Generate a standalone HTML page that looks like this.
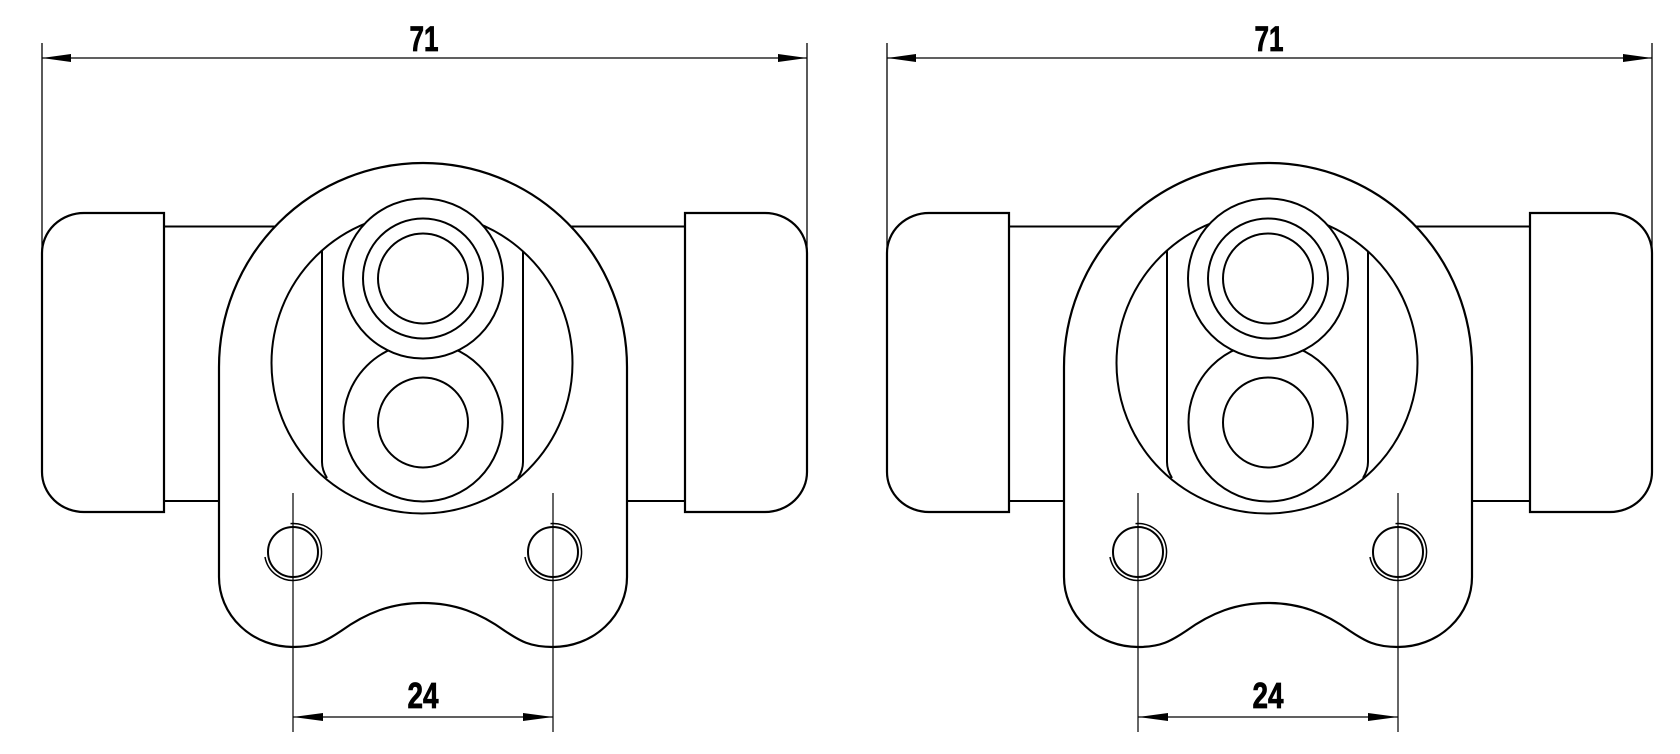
<!DOCTYPE html>
<html><head><meta charset="utf-8"><style>html,body{margin:0;padding:0;background:#fff}svg{display:block}</style></head>
<body>
<svg width="1680" height="754" viewBox="0 0 1680 754" xmlns="http://www.w3.org/2000/svg">
<g id="d1" fill="none" stroke="#000">
  <line x1="42" y1="43" x2="42" y2="250" stroke-width="1.3"/>
  <line x1="807" y1="43" x2="807" y2="250" stroke-width="1.3"/>
  <line x1="42" y1="58" x2="807" y2="58" stroke-width="1.3"/>
  <path d="M42,58 L71,54 L71,62 Z M807,58 L778,54 L778,62 Z" fill="#000" stroke="none"/>
  <text x="424" y="51" font-family="Liberation Sans Narrow, Liberation Sans, sans-serif" font-weight="bold" font-size="35" text-anchor="middle" fill="#000" stroke="#000" stroke-width="0.8" textLength="29" lengthAdjust="spacingAndGlyphs">71</text>
  <line x1="164" y1="226.5" x2="685" y2="226.5" stroke-width="2"/>
  <line x1="164" y1="501" x2="685" y2="501" stroke-width="2"/>
  <path d="M164,213 L84,213 A42,40 0 0 0 42,253 L42,472 A42,40 0 0 0 84,512 L164,512 Z" fill="#fff" stroke-width="2.2"/>
  <path d="M685,213 L765,213 A42,40 0 0 1 807,253 L807,472 A42,40 0 0 1 765,512 L685,512 Z" fill="#fff" stroke-width="2.2"/>
  <path d="M219,367 A204,204 0 0 1 627,367 L627,577 A74,70 0 0 1 553,647 C530,647 520,641 505,631 C480,613 455,603 423,603 C391,603 366,613 341,631 C326,641 316,647 293,647 A74,70 0 0 1 219,577 Z" fill="#fff" stroke-width="2.2"/>
  <circle cx="293" cy="552" r="25" stroke-width="2"/>
  <path d="M290.5,523.6 A28.5,28.5 0 1 1 265,557" stroke-width="1.5"/>
  <circle cx="553" cy="552" r="25" stroke-width="2"/>
  <path d="M550.5,523.6 A28.5,28.5 0 1 1 525,557" stroke-width="1.5"/>
  <line x1="293" y1="493" x2="293" y2="732" stroke-width="1.2"/>
  <line x1="553" y1="493" x2="553" y2="732" stroke-width="1.2"/>
  <line x1="293" y1="717" x2="553" y2="717" stroke-width="1.3"/>
  <path d="M293,717 L323,713 L323,721 Z M553,717 L523,713 L523,721 Z" fill="#000" stroke="none"/>
  <text x="423" y="708" font-family="Liberation Sans Narrow, Liberation Sans, sans-serif" font-weight="bold" font-size="36" text-anchor="middle" fill="#000" stroke="#000" stroke-width="0.8" textLength="31" lengthAdjust="spacingAndGlyphs">24</text>
  <circle cx="422" cy="363" r="150.5" stroke-width="2"/>
  <path d="M322,251 L322,462 Q322,470 327,478" stroke-width="2"/>
  <path d="M523,251 L523,462 Q523,470 518,478" stroke-width="2"/>
  <circle cx="423" cy="422" r="79.5" stroke-width="2"/>
  <circle cx="423" cy="422.5" r="45" stroke-width="2"/>
  <circle cx="423" cy="278.5" r="80" fill="#fff" stroke-width="2"/>
  <circle cx="423" cy="278.5" r="60" stroke-width="2"/>
  <circle cx="423" cy="278.5" r="45" stroke-width="2"/>
</g>
<g fill="none" stroke="#000" transform="translate(845,0)">
  <line x1="42" y1="43" x2="42" y2="250" stroke-width="1.3"/>
  <line x1="807" y1="43" x2="807" y2="250" stroke-width="1.3"/>
  <line x1="42" y1="58" x2="807" y2="58" stroke-width="1.3"/>
  <path d="M42,58 L71,54 L71,62 Z M807,58 L778,54 L778,62 Z" fill="#000" stroke="none"/>
  <text x="424" y="51" font-family="Liberation Sans Narrow, Liberation Sans, sans-serif" font-weight="bold" font-size="35" text-anchor="middle" fill="#000" stroke="#000" stroke-width="0.8" textLength="29" lengthAdjust="spacingAndGlyphs">71</text>
  <line x1="164" y1="226.5" x2="685" y2="226.5" stroke-width="2"/>
  <line x1="164" y1="501" x2="685" y2="501" stroke-width="2"/>
  <path d="M164,213 L84,213 A42,40 0 0 0 42,253 L42,472 A42,40 0 0 0 84,512 L164,512 Z" fill="#fff" stroke-width="2.2"/>
  <path d="M685,213 L765,213 A42,40 0 0 1 807,253 L807,472 A42,40 0 0 1 765,512 L685,512 Z" fill="#fff" stroke-width="2.2"/>
  <path d="M219,367 A204,204 0 0 1 627,367 L627,577 A74,70 0 0 1 553,647 C530,647 520,641 505,631 C480,613 455,603 423,603 C391,603 366,613 341,631 C326,641 316,647 293,647 A74,70 0 0 1 219,577 Z" fill="#fff" stroke-width="2.2"/>
  <circle cx="293" cy="552" r="25" stroke-width="2"/>
  <path d="M290.5,523.6 A28.5,28.5 0 1 1 265,557" stroke-width="1.5"/>
  <circle cx="553" cy="552" r="25" stroke-width="2"/>
  <path d="M550.5,523.6 A28.5,28.5 0 1 1 525,557" stroke-width="1.5"/>
  <line x1="293" y1="493" x2="293" y2="732" stroke-width="1.2"/>
  <line x1="553" y1="493" x2="553" y2="732" stroke-width="1.2"/>
  <line x1="293" y1="717" x2="553" y2="717" stroke-width="1.3"/>
  <path d="M293,717 L323,713 L323,721 Z M553,717 L523,713 L523,721 Z" fill="#000" stroke="none"/>
  <text x="423" y="708" font-family="Liberation Sans Narrow, Liberation Sans, sans-serif" font-weight="bold" font-size="36" text-anchor="middle" fill="#000" stroke="#000" stroke-width="0.8" textLength="31" lengthAdjust="spacingAndGlyphs">24</text>
  <circle cx="422" cy="363" r="150.5" stroke-width="2"/>
  <path d="M322,251 L322,462 Q322,470 327,478" stroke-width="2"/>
  <path d="M523,251 L523,462 Q523,470 518,478" stroke-width="2"/>
  <circle cx="423" cy="422" r="79.5" stroke-width="2"/>
  <circle cx="423" cy="422.5" r="45" stroke-width="2"/>
  <circle cx="423" cy="278.5" r="80" fill="#fff" stroke-width="2"/>
  <circle cx="423" cy="278.5" r="60" stroke-width="2"/>
  <circle cx="423" cy="278.5" r="45" stroke-width="2"/>
</g>
</svg>
</body></html>
